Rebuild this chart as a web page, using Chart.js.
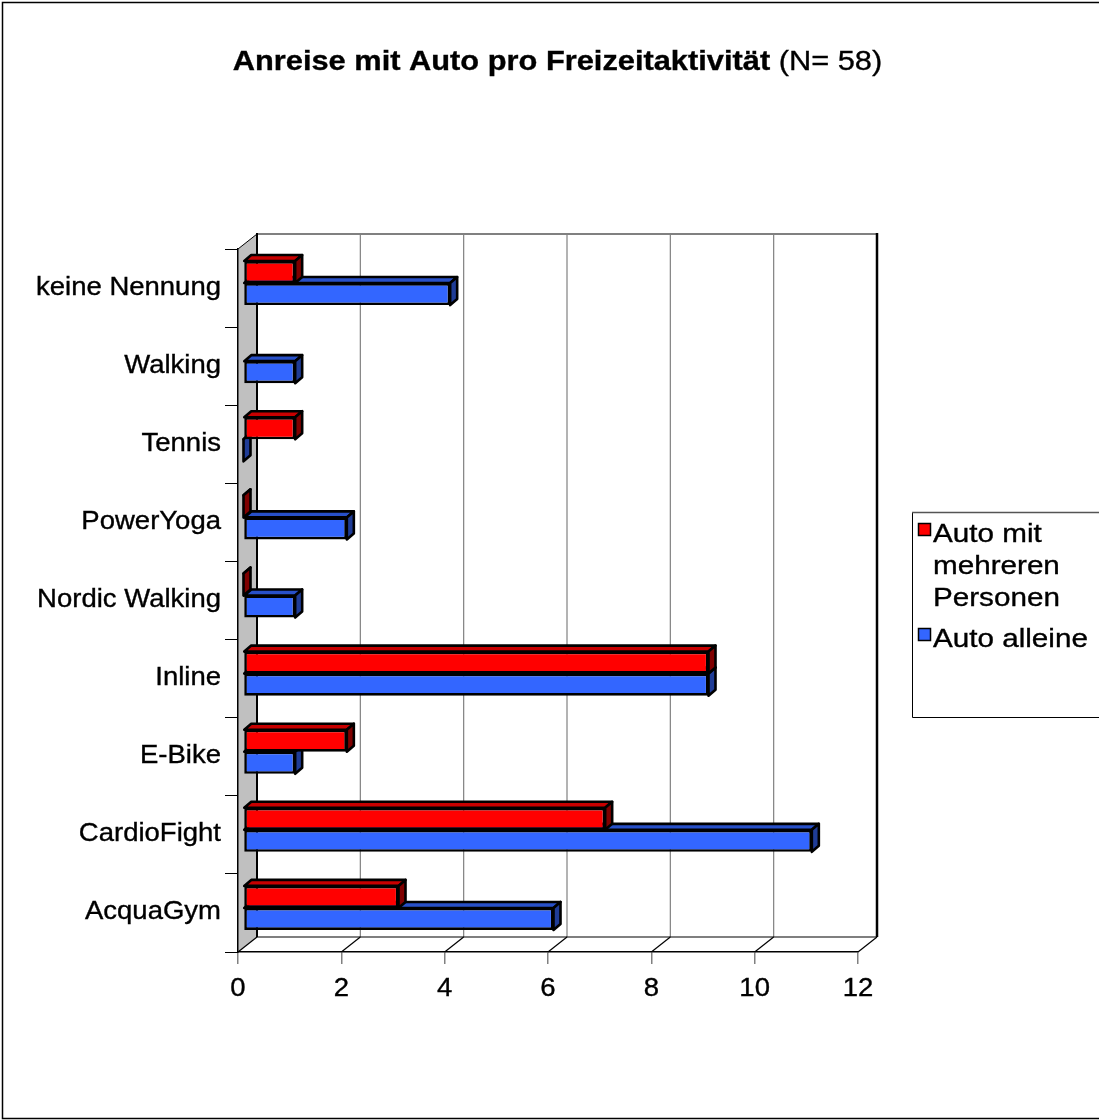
<!DOCTYPE html>
<html>
<head>
<meta charset="utf-8">
<title>Anreise mit Auto pro Freizeitaktivität</title>
<script src="https://cdn.jsdelivr.net/npm/chart.js@4/dist/chart.umd.min.js"></script>
<style>
  html, body { margin: 0; padding: 0; background: #fff; overflow: hidden; }
  #wrap { width: 1099px; height: 1120px; position: relative; }
  canvas { display: block; }
</style>
</head>
<body>
<div id="wrap"><canvas id="chart" width="1099" height="1120"></canvas></div>
<script>
// ---- data ----
const categories = ['keine Nennung', 'Walking', 'Tennis', 'PowerYoga', 'Nordic Walking', 'Inline', 'E-Bike', 'CardioFight', 'AcquaGym'];
const seriesNames = ['Auto mit mehreren Personen', 'Auto alleine'];
const legendLines = [['Auto mit', 'mehreren', 'Personen'], ['Auto alleine']];
const autoMitMehreren = [1, null, 1, 0, 0, 9, 2, 7, 3];
const autoAlleine = [4, 1, 0, 2, 1, 9, 1, 11, 6];
const xTickValues = [0, 2, 4, 6, 8, 10, 12];
const titleBold = 'Anreise mit Auto pro Freizeitaktivität';
const titleRest = ' (N= 58)';

// ---- look ----
const FONT = '"Liberation Sans", Arial, Helvetica, sans-serif';
const STRETCH = 1.1;                  // horizontal text stretch
const LABEL_SIZE = 25;
const LEGEND_SIZE = 26;
const TITLE_SIZE = 28;
const DEPTH = { dx: 19, dy: -15 };     // front plane -> back wall
const BAR_SHIFT = { dx: 5.5, dy: -5 }; // front plane -> bar front faces
const EXTRUDE = { dx: 7, dy: -6 };     // bar depth
const faces = [
  { front: '#ff0000', top: '#c80000', side: '#7f0000' },
  { front: '#3366ff', top: '#2850c8', side: '#1f3c96' }
];

function stretchedText(ctx, text, x, y, align, font, sx) {
  const k = sx || STRETCH;
  ctx.save();
  ctx.font = font;
  const w = ctx.measureText(text).width * k;
  let x0 = x;
  if (align === 'right') x0 = x - w;
  else if (align === 'center') x0 = x - w / 2;
  ctx.translate(x0, y);
  ctx.scale(k, 1);
  ctx.textAlign = 'left';
  ctx.textBaseline = 'alphabetic';
  ctx.fillStyle = '#000';
  ctx.strokeStyle = '#000';
  ctx.lineWidth = 0.35;
  ctx.fillText(text, 0, 0);
  ctx.strokeText(text, 0, 0);
  ctx.restore();
  return w;
}
function textWidth(ctx, text, font) {
  ctx.save(); ctx.font = font;
  const w = ctx.measureText(text).width * STRETCH;
  ctx.restore();
  return w;
}
function line(ctx, x1, y1, x2, y2, color, width) {
  ctx.beginPath();
  ctx.moveTo(x1, y1); ctx.lineTo(x2, y2);
  ctx.strokeStyle = color; ctx.lineWidth = width;
  ctx.stroke();
}

// Walls, floor and back-wall grid of the 3D box
const boxPlugin = {
  id: 'box3d',
  beforeDraw(chart) {
    const { ctx, chartArea: a, scales: { x } } = chart;
    ctx.save();
    ctx.fillStyle = '#fff';
    ctx.fillRect(0, 0, chart.width, chart.height);
    // outer frame (right edge runs off the page)
    ctx.strokeStyle = '#000'; ctx.lineWidth = 1.5;
    ctx.strokeRect(2.5, 2.5, chart.width + 10, chart.height - 4);

    const bl = a.left + DEPTH.dx, bt = a.top + DEPTH.dy, bb = a.bottom + DEPTH.dy;
    const br = a.right + DEPTH.dx;
    // left wall
    ctx.beginPath();
    ctx.moveTo(a.left, a.top); ctx.lineTo(bl, bt); ctx.lineTo(bl, bb); ctx.lineTo(a.left, a.bottom);
    ctx.closePath();
    ctx.fillStyle = '#c0c0c0'; ctx.fill();
    line(ctx, a.left, a.top, bl, bt, '#000', 1);
    // back wall grid
    xTickValues.forEach(v => {
      const px = x.getPixelForValue(v) + DEPTH.dx;
      if (v !== 0 && v !== 12) line(ctx, px, bt, px, bb, '#808080', 1.2);
    });
    line(ctx, bl, bt, br, bt, '#808080', 2);
    line(ctx, bl, bt - 1, bl, bb, '#000', 2);
    line(ctx, br, bt - 1, br, bb, '#000', 2.5);
    // floor
    line(ctx, bl, bb, br, bb, '#000', 1.2);
    xTickValues.forEach(v => {
      const px = x.getPixelForValue(v);
      line(ctx, px, a.bottom, px + DEPTH.dx, bb, '#000', 1.2);
    });
    ctx.restore();
  },
  beforeDatasetsDraw(chart) {
    chart.ctx.save();
    chart.ctx.translate(BAR_SHIFT.dx, BAR_SHIFT.dy);
  },
  afterDatasetDraw(chart, args) {
    const { ctx } = chart;
    const f = faces[args.index];
    const values = chart.data.datasets[args.index].data;
    ctx.save();
    ctx.lineWidth = 2.6;
    ctx.lineJoin = 'round';
    ctx.strokeStyle = '#000';
    args.meta.data.forEach((el, i) => {
      if (values[i] === null || values[i] === undefined) return;
      const p = el.getProps(['x', 'y', 'base', 'height'], true);
      const left = Math.min(p.x, p.base), right = Math.max(p.x, p.base);
      const top = p.y - p.height / 2, bottom = p.y + p.height / 2;
      // top face
      ctx.beginPath();
      ctx.moveTo(left, top); ctx.lineTo(left + EXTRUDE.dx, top + EXTRUDE.dy);
      ctx.lineTo(right + EXTRUDE.dx, top + EXTRUDE.dy); ctx.lineTo(right, top);
      ctx.closePath();
      ctx.fillStyle = f.top; ctx.fill(); ctx.stroke();
      // side face
      ctx.beginPath();
      ctx.moveTo(right, top); ctx.lineTo(right + EXTRUDE.dx, top + EXTRUDE.dy);
      ctx.lineTo(right + EXTRUDE.dx, bottom + EXTRUDE.dy); ctx.lineTo(right, bottom);
      ctx.closePath();
      ctx.fillStyle = f.side; ctx.fill(); ctx.stroke();
    });
    ctx.restore();
  },
  afterDatasetsDraw(chart) {
    chart.ctx.restore();
  },
  afterDraw(chart) {
    const { ctx, scales: { x, y } } = chart;
    const labelFont = `${LABEL_SIZE}px ${FONT}`;
    // category labels
    categories.forEach((c, i) => {
      stretchedText(ctx, c, 221, y.getPixelForValue(i) + 6.5, 'right', labelFont);
    });
    // value labels
    xTickValues.forEach(v => {
      stretchedText(ctx, String(v), x.getPixelForValue(v), 996, 'center', labelFont);
    });
    // title
    const bFont = `bold ${TITLE_SIZE}px ${FONT}`, nFont = `${TITLE_SIZE}px ${FONT}`;
    const wb = textWidth(ctx, titleBold, bFont), wn = textWidth(ctx, titleRest, nFont);
    const tx = 557.5 - (wb + wn) / 2;
    stretchedText(ctx, titleBold, tx, 70, 'left', bFont);
    stretchedText(ctx, titleRest, tx + wb, 70, 'left', nFont);
    // legend
    ctx.save();
    ctx.fillStyle = '#fff';
    ctx.fillRect(912.5, 512.5, 190, 205);
    ctx.strokeStyle = '#000'; ctx.lineWidth = 1;
    ctx.beginPath();
    ctx.moveTo(1105, 717.5); ctx.lineTo(912.5, 717.5); ctx.lineTo(912.5, 512.5);
    ctx.stroke();
    line(ctx, 912, 512.5, 1105, 512.5, '#555', 1.5);
    ctx.restore();
    const legendFont = `${LEGEND_SIZE}px ${FONT}`;
    const baselines = [[542, 574, 606], [647]];
    chart.data.datasets.forEach((ds, i) => {
      const by = baselines[i][0];
      ctx.save();
      ctx.fillStyle = ds.backgroundColor;
      ctx.fillRect(918.5, by - 18.5, 12, 12);
      ctx.strokeStyle = '#000'; ctx.lineWidth = 1.5;
      ctx.strokeRect(918.5, by - 18.5, 12, 12);
      ctx.restore();
      legendLines[i].forEach((t, j) => {
        stretchedText(ctx, t, 933, baselines[i][j], 'left', legendFont, 1.14);
      });
    });
  }
};

new Chart(document.getElementById('chart'), {
  type: 'bar',
  data: {
    labels: categories,
    datasets: [
      { label: seriesNames[0], data: autoMitMehreren, backgroundColor: faces[0].front },
      { label: seriesNames[1], data: autoAlleine, backgroundColor: faces[1].front }
    ]
  },
  options: {
    indexAxis: 'y',
    responsive: false,
    animation: false,
    devicePixelRatio: 1,
    layout: { padding: { left: 0, top: 249, right: 241, bottom: 0 } },
    datasets: {
      bar: {
        borderColor: '#000',
        borderWidth: 2.6,
        borderSkipped: false,
        categoryPercentage: 0.564,
        barPercentage: 1,
        clip: false
      }
    },
    plugins: {
      legend: { display: false },
      title: { display: false },
      tooltip: { enabled: false }
    },
    scales: {
      x: {
        min: 0, max: 12,
        afterBuildTicks: s => { s.ticks = xTickValues.map(v => ({ value: v })); },
        afterFit: s => { s.height = 168; },
        ticks: { display: false },
        grid: { display: true, drawOnChartArea: false, drawTicks: true, tickLength: 12, color: '#808080', lineWidth: 1.5 },
        border: { display: true, color: '#000', width: 1.5 }
      },
      y: {
        afterFit: s => { s.width = 238; },
        ticks: { display: false },
        grid: { display: true, drawOnChartArea: false, drawTicks: true, tickLength: 13, color: '#000', lineWidth: 1, offset: true },
        border: { display: true, color: '#000', width: 1.5 }
      }
    }
  },
  plugins: [boxPlugin]
});
</script>
</body>
</html>
